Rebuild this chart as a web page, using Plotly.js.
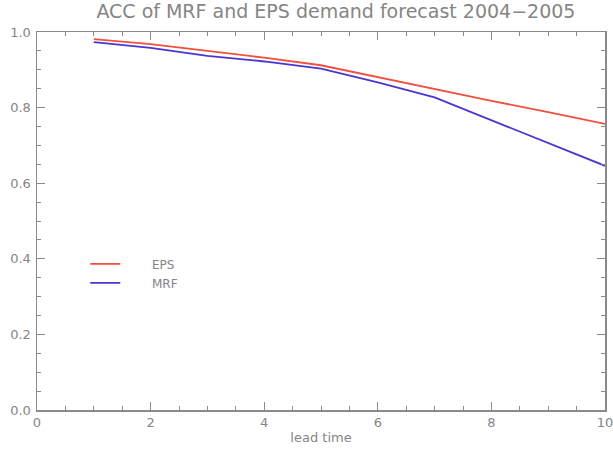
<!DOCTYPE html>
<html>
<head>
<meta charset="utf-8">
<script src="https://cdn.plot.ly/plotly-3.0.1.min.js"></script>
<style>html,body{margin:0;padding:0;background:#fff;}#chart{width:613px;height:454px;}</style>
</head>
<body>
<div id="chart"></div>
<script>
var leadTime = [1, 2, 3, 4, 5, 6, 7, 8, 9, 10];
var epsAcc = [0.981, 0.968, 0.950, 0.932, 0.912, 0.880, 0.850, 0.818, 0.788, 0.757];
var mrfAcc = [0.973, 0.958, 0.937, 0.922, 0.903, 0.867, 0.827, 0.767, 0.706, 0.646];
var xTicks = [0, 2, 4, 6, 8, 10];
var yTicks = [0.0, 0.2, 0.4, 0.6, 0.8, 1.0];
var seriesNames = ['EPS', 'MRF'];

var gray = '#8a8a8a';
var txt = '#858585';
var fontFam = 'DejaVu Sans, Verdana, sans-serif';
var pad = '\u00a0\u00a0\u00a0\u00a0\u00a0\u00a0\u00a0';

var traces = [
  {x: leadTime, y: epsAcc, name: pad + seriesNames[0], mode: 'lines', line: {color: '#f0503c', width: 1.8}},
  {x: leadTime, y: mrfAcc, name: pad + seriesNames[1], mode: 'lines', line: {color: '#4a35d0', width: 1.8}}
];

var axisCommon = {
  showgrid: false, zeroline: false, showline: true, linecolor: gray, linewidth: 1.5,
  mirror: 'ticks', ticks: 'inside', ticklen: 8, tickcolor: gray, tickwidth: 1,
  tickfont: {family: fontFam, size: 13, color: txt}, ticklabeloverflow: 'allow'
};

var layout = {
  width: 613, height: 454,
  margin: {l: 37, r: 8, t: 32, b: 44},
  paper_bgcolor: '#fff', plot_bgcolor: '#fff',
  title: {text: 'ACC of MRF and EPS demand forecast 2004\u22122005', x: 0.548, xanchor: 'center', y: 0.99, yanchor: 'top',
          font: {family: fontFam, size: 19, color: txt}},
  xaxis: Object.assign({}, axisCommon, {
    range: [0, 10], tickvals: xTicks, ticktext: xTicks.map(String),
    minor: {dtick: 0.5, tick0: 0, ticks: 'inside', ticklen: 4, tickcolor: gray},
    title: {text: 'lead time', font: {family: fontFam, size: 13, color: txt}, standoff: 4}
  }),
  yaxis: Object.assign({}, axisCommon, {
    range: [0, 1], tickvals: yTicks, ticktext: yTicks.map(function(v){return v.toFixed(1);}),
    minor: {dtick: 0.05, tick0: 0, ticks: 'inside', ticklen: 4, tickcolor: gray},
    ticklabelstandoff: 2
  }),
  showlegend: true,
  legend: {x: 0.085, y: 0.425, xanchor: 'left', yanchor: 'top', bgcolor: 'rgba(0,0,0,0)',
           font: {family: fontFam, size: 12, color: txt}, tracegroupgap: 0}
};

Plotly.newPlot('chart', traces, layout, {displayModeBar: false, staticPlot: true});
</script>
</body>
</html>
